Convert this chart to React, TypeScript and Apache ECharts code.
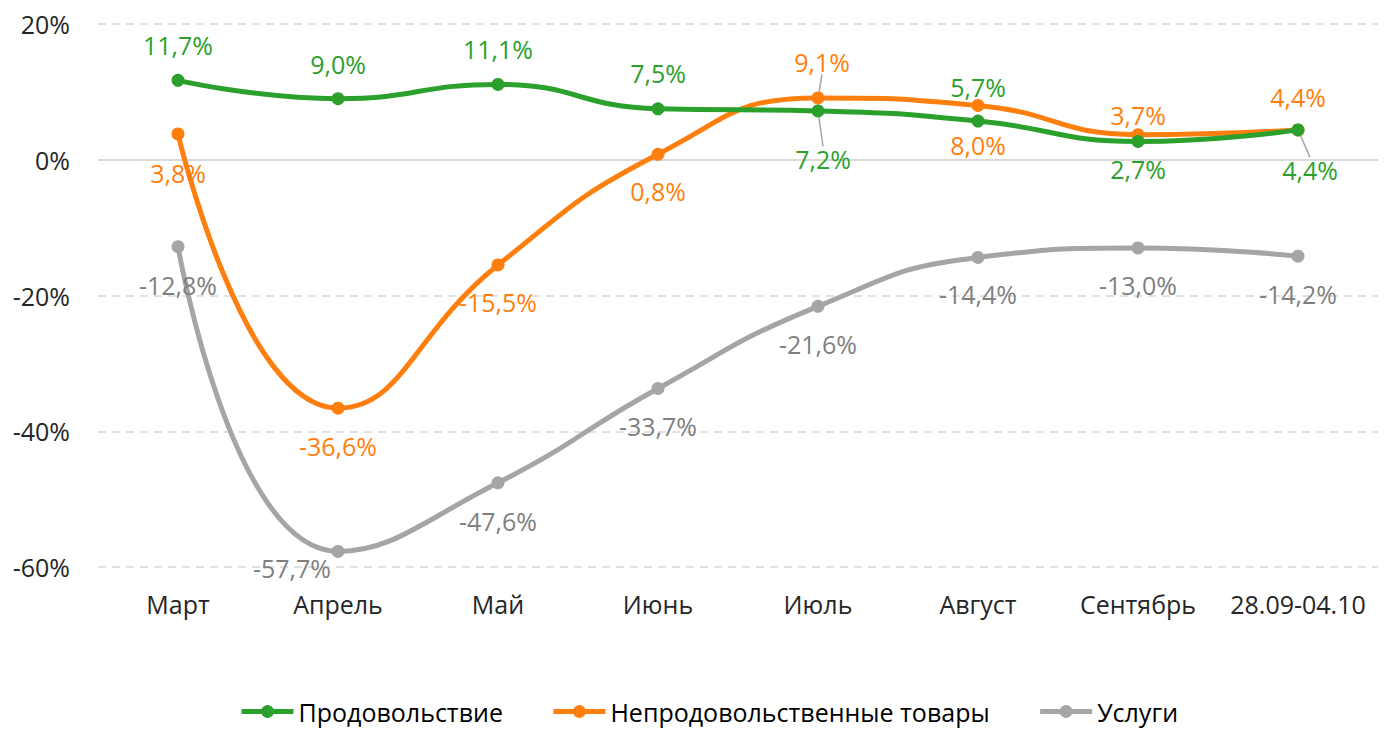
import React, { useEffect, useRef } from "react";
import * as echarts from "echarts";

const categories = ["Март", "Апрель", "Май", "Июнь", "Июль", "Август", "Сентябрь", "28.09-04.10"];
const seriesNames = ["Продовольствие", "Непродовольственные товары", "Услуги"];
const food = [11.7, 9.0, 11.1, 7.5, 7.2, 5.7, 2.7, 4.4];
const nonFood = [3.8, -36.6, -15.5, 0.8, 9.1, 8.0, 3.7, 4.4];
const services = [-12.8, -57.7, -47.6, -33.7, -21.6, -14.4, -13.0, -14.2];
const yTicks = [-60, -40, -20, 0, 20];

const lineColors = ["#2ca02c", "#ff7f0e", "#a5a5a5"];
const labelColors = ["#2ca02c", "#ff7f0e", "#7f7f7f"];

// label offsets [dx, dy] relative to the data point
const foodOffsets = [[0, -35], [0, -35], [0, -35], [0, -36], [5, 48], [0, -34], [0, 28], [12, 40]];
const nonFoodOffsets = [[0, 39], [0, 38], [0, 37], [0, 37], [4, -36], [0, 40], [0, -20], [0, -33]];
const servicesOffsets = [[0, 38], [-46, 17], [0, 38], [0, 38], [0, 38], [0, 37], [0, 37], [0, 38]];
const foodLeader = [false, false, false, false, true, false, false, true];
const nonFoodLeader = [false, false, false, false, true, false, false, false];

const FONT = "'Open Sans', sans-serif";

const fmt = (v: number) => v.toFixed(1).replace(".", ",") + "%";

export default function App() {
  const ref = useRef<HTMLDivElement>(null);
  useEffect(() => {
    document.body.style.margin = "0";
    if (!ref.current) return;
    const chart = echarts.init(ref.current, null, { renderer: "svg" });
    const mk = (idx: number, values: number[], offsets: number[][], leaders: boolean[] | null) => ({
      name: seriesNames[idx],
      type: "line",
      smooth: 0.5,
      symbol: "circle",
      symbolSize: 13,
      z: 3 - idx + 2,
      lineStyle: { color: lineColors[idx], width: 5 },
      itemStyle: { color: lineColors[idx] },
      data: values.map((v, i) => ({
        value: v,
        labelLine: leaders && leaders[i] ? { show: true, lineStyle: { color: "#a6a6a6", width: 1.5 } } : { show: false },
      })),
      label: {
        show: true,
        position: "inside",
        formatter: (p: any) => fmt(p.value),
        color: labelColors[idx],
        fontFamily: FONT,
        fontSize: 25,
      },
      labelLayout: (p: any) => ({ dx: offsets[p.dataIndex][0], dy: offsets[p.dataIndex][1] }),
      ...(idx === 2
        ? {
            markLine: {
              silent: true,
              symbol: "none",
              label: { show: false },
              lineStyle: { color: "#d9d9d9", type: "solid", width: 2 },
              data: [{ yAxis: 0 }],
              z: 1,
            },
          }
        : {}),
    });
    chart.setOption({
      animation: false,
      grid: { left: 98, right: 15, top: 24, bottom: 163 },
      legend: {
        bottom: 1,
        left: 234,
        itemWidth: 52,
        itemHeight: 16,
        itemGap: 48,
        lineStyle: { width: 5 },
        textStyle: { fontFamily: FONT, fontSize: 25, color: "#000", padding: [0, 0, 0, 0] },
        data: seriesNames,
      },
      xAxis: {
        type: "category",
        data: categories,
        boundaryGap: true,
        axisLine: { show: false },
        axisTick: { show: false },
        axisLabel: { fontFamily: FONT, fontSize: 25, color: "#262626", margin: 24, interval: 0 },
      },
      yAxis: {
        type: "value",
        min: yTicks[0],
        max: yTicks[yTicks.length - 1],
        interval: 20,
        axisLine: { show: false },
        axisTick: { show: false },
        axisLabel: { fontFamily: FONT, fontSize: 25, color: "#262626", formatter: (v: number) => v + "%", margin: 28 },
        splitLine: { lineStyle: { color: "#d9d9d9", type: [8, 6], width: 1.5 } },
      },
      series: [mk(0, food, foodOffsets, foodLeader), mk(1, nonFood, nonFoodOffsets, nonFoodLeader), mk(2, services, servicesOffsets, null)],
    });
    return () => chart.dispose();
  }, []);
  return <div ref={ref} style={{ width: 1393, height: 730 }} />;
}
